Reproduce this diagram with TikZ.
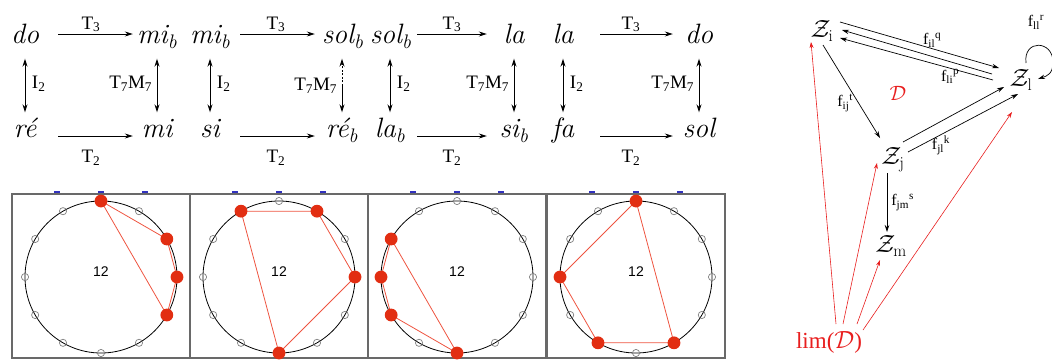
\documentclass[tikz,border=0pt]{standalone}
\usepackage{fontspec}
\newfontfamily\timesfont{Liberation Serif}
\newfontfamily\clocksans{Liberation Sans}
\usetikzlibrary{arrows.meta}
\usetikzlibrary{calc}
\definecolor{limred}{RGB}{232,30,30}
\definecolor{dotred}{RGB}{226,46,18}
\definecolor{edgered}{RGB}{238,84,64}
\definecolor{boxgray}{RGB}{105,105,105}
\definecolor{tickblue}{RGB}{50,50,190}

\newcommand{\flatsub}[1]{#1\textsubscript{b}}
% one pitch-class clock: centre x, then the four pitch classes
\newcommand{\clockface}[5]{%
  \draw[panelbox] (#1-89,194) rectangle (#1+89,358);
  \foreach \dx in {-44,0,44}
    \draw[tickblue, line width=1.2pt] (#1+\dx-3,192) -- (#1+\dx+3,192);
  \draw[clockline] (#1,277) circle[radius=76];
  \foreach \h in {0,...,11}
    \draw[pcmark] ($(#1,277)+(30*\h-90:76)$) circle[radius=3.6];
  \node[clocknum] at (#1,272) {12};
  \draw[edgered, line width=0.8pt] ($(#1,277)+(30*#2-90:76)$) -- ($(#1,277)+(30*#3-90:76)$)
     -- ($(#1,277)+(30*#4-90:76)$) -- ($(#1,277)+(30*#5-90:76)$) -- cycle;
  \foreach \h in {#2,#3,#4,#5}
    \fill[dotred] ($(#1,277)+(30*\h-90:76)$) circle[radius=6.4];
}

\begin{document}
\begin{tikzpicture}[x=1pt, y=-1pt, >={Stealth[length=8pt,width=5pt]},
  note/.style={font=\itshape\fontsize{28}{28}\selectfont, inner sep=0pt,
    text width=40pt, align=center, text height=18pt, text depth=5pt},
  oplab/.style={font=\timesfont\fontsize{19}{19}\selectfont, inner sep=1.5pt},
  arr/.style={->, line width=0.9pt},
  varr/.style={<->, line width=0.9pt, shorten <=10pt, shorten >=7pt},
  panelbox/.style={boxgray, line width=1.4pt},
  clockline/.style={black, line width=0.8pt},
  pcmark/.style={gray, line width=0.7pt},
  clocknum/.style={font=\clocksans\fontsize{14}{14}\selectfont},
  obj/.style={font=\timesfont\fontsize{24}{24}\selectfont, inner sep=1pt},
  mor/.style={font=\timesfont\fontsize{16}{16}\selectfont, inner sep=1pt},
  redarr/.style={->, limred, line width=0.6pt, >={Stealth[length=6pt,width=4pt]}},
  blkarr/.style={->, line width=0.7pt, >={Stealth[length=7pt,width=4.5pt]}},
  ]
\useasboundingbox (0,0) rectangle (1052,360);

% the four transformation squares
\node[note] (1) at (25,37)  {do};
\node[note] (2) at (157,37) {\flatsub{mi}};
\node[note] (3) at (210,37) {\flatsub{mi}};
\node[note] (4) at (342,37) {\flatsub{sol}};
\node[note] (5) at (390,37) {\flatsub{sol}};
\node[note] (6) at (514,37) {la};
\node[note] (7) at (563,37) {la};
\node[note] (8) at (699,37) {do};
\node[note] (9)  at (25,131)  {ré};
\node[note] (10) at (157,131) {mi};
\node[note] (11) at (210,131) {si};
\node[note] (12) at (342,131) {\flatsub{ré}};
\node[note] (13) at (390,131) {\flatsub{la}};
\node[note] (14) at (514,131) {\flatsub{si}};
\node[note] (15) at (563,131) {fa};
\node[note] (16) at (699,131) {sol};

\draw [arr, shorten <=13pt, shorten >=4pt] ([yshift=3pt]1.east)--([yshift=3pt]2.west) node[midway, above, oplab]{T\textsubscript{3}};
\draw [arr, shorten <=10pt, shorten >=7pt] ([yshift=3pt]3.east)--([yshift=3pt]4.west) node[midway, above, oplab]{T\textsubscript{3}};
\draw [arr, shorten <=7pt, shorten >=7pt] ([yshift=3pt]5.east)--([yshift=3pt]6.west) node[midway, above, oplab]{T\textsubscript{3}};
\draw [arr, shorten <=17pt, shorten >=6pt] ([yshift=3pt]7.east)--([yshift=3pt]8.west) node[midway, above, oplab]{T\textsubscript{3}};
\draw [arr, shorten <=13pt, shorten >=4pt] ([yshift=-5pt]9.east)--([yshift=-5pt]10.west) node[midway, below=12pt, oplab]{T\textsubscript{2}};
\draw [arr, shorten <=10pt, shorten >=7pt] ([yshift=-5pt]11.east)--([yshift=-5pt]12.west) node[midway, below=12pt, oplab]{T\textsubscript{2}};
\draw [arr, shorten <=7pt, shorten >=7pt] ([yshift=-5pt]13.east)--([yshift=-5pt]14.west) node[midway, below=12pt, oplab]{T\textsubscript{2}};
\draw [arr, shorten <=17pt, shorten >=6pt] ([yshift=-5pt]15.east)--([yshift=-5pt]16.west) node[midway, below=12pt, oplab]{T\textsubscript{2}};

\draw [varr] (1)--(9) node[midway, right=5pt, oplab]{I\textsubscript{2}};
\draw [varr] (2)--(10) node[midway, left=3pt, oplab]{T\textsubscript{7}M\textsubscript{7}};
\draw [varr] (3)--(11) node[midway, right=5pt, oplab]{I\textsubscript{2}};
\draw [->, line width=0.8pt, dash pattern=on 2pt off 1.5pt, shorten >=10pt] ($(4)!0.52!(12)$)--(4);
\draw [->, line width=0.9pt, shorten >=7pt] ($(4)!0.52!(12)$)--(12) node[pos=0, left=3pt, oplab]{T\textsubscript{7}M\textsubscript{7}};
\draw [varr] (5)--(13) node[midway, right=5pt, oplab]{I\textsubscript{2}};
\draw [varr] (6)--(14) node[midway, left=3pt, oplab]{T\textsubscript{7}M\textsubscript{7}};
\draw [varr] (7)--(15) node[midway, right=5pt, oplab]{I\textsubscript{2}};
\draw [varr] (8)--(16) node[midway, left=3pt, oplab]{T\textsubscript{7}M\textsubscript{7}};

% the same chords on the clock
\clockface{101}{0}{2}{3}{4}
\clockface{279}{1}{3}{6}{11}
\clockface{457}{6}{8}{9}{10}
\clockface{636}{0}{5}{7}{9}

% the diagram D and its limit
\node[obj] (zi) at (822,31)  {$\mathcal{Z}_{\mathrm{i}}$};
\node[obj] (zl) at (1021,80) {$\mathcal{Z}_{\mathrm{l}}$};
\node[obj] (zj) at (893,160) {$\mathcal{Z}_{\mathrm{j}}$};
\node[obj] (zm) at (891,246) {$\mathcal{Z}_{\mathrm{m}}$};
\node[obj, limred, font=\timesfont\fontsize{23}{23}\selectfont] (lim) at (829,342) {lim($\mathcal{D}$)};
\node[limred, font=\fontsize{22}{22}\selectfont] (dd) at (898,93) {$\mathcal{D}$};

\draw [blkarr] ([shift={(18,-9)}]zi.center)--([shift={(-22,-12)}]zl.center) node[pos=0.58, above, mor]{f\textsubscript{il}\textsuperscript{q}};
\draw [blkarr] ([shift={(-29,-6)}]zl.center)--([shift={(20,-1)}]zi.center);
\draw [blkarr] ([shift={(-28,0)}]zl.center)--([shift={(18,7)}]zi.center) node[pos=0.28, below, mor]{f\textsubscript{li}\textsuperscript{p}};
\draw [blkarr] ([shift={(1,14)}]zi.center)--([shift={(-13,-22)}]zj.center) node[pos=0.62, left=4pt, mor]{f\textsubscript{ij}\textsuperscript{t}};
\draw [blkarr] ([shift={(10,-18)}]zj.center)--([shift={(-17,7)}]zl.center);
\draw [blkarr] ([shift={(15,-8)}]zj.center)--([shift={(-3,14)}]zl.center) node[pos=0.3, below, mor]{f\textsubscript{jl}\textsuperscript{k}};
\draw [blkarr] ([shift={(-6,13)}]zj.center)--([shift={(-4,-14)}]zm.center) node[midway, right=3pt, mor]{f\textsubscript{jm}\textsuperscript{s}};
\draw [blkarr] ([shift={(5,-17)}]zl.center) .. controls +(-3,-24) and +(0,-22) .. ([shift={(32,-18)}]zl.center)
   .. controls +(0,12) and +(9,-3) .. ([shift={(17,-1)}]zl.center);
\node[mor] (fll) at (1036,22) {f\textsubscript{ll}\textsuperscript{r}};

\draw [redarr] ([shift={(7,-18)}]lim.center)--([shift={(-11,11)}]zi.center);
\draw [redarr] ([shift={(14,-18)}]lim.center)--([shift={(-16,3)}]zj.center);
\draw [redarr] ([shift={(28,-18)}]lim.center)--([shift={(-11,14)}]zm.center);
\draw [redarr] ([shift={(34,-12)}]lim.center)--([shift={(-9,32)}]zl.center);
\end{tikzpicture}
\end{document}
